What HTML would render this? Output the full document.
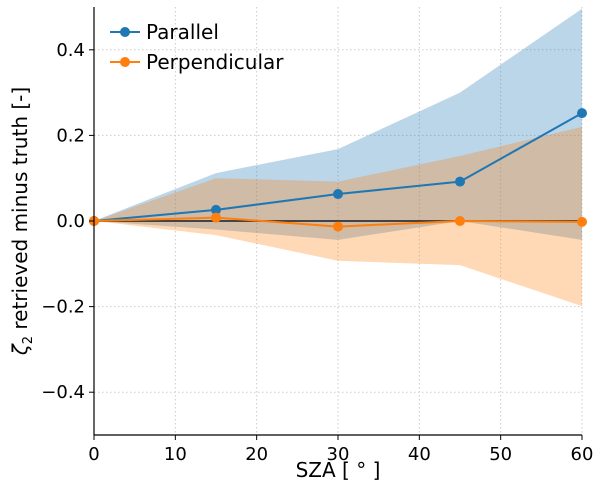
<!DOCTYPE html>
<html><head><meta charset="utf-8"><style>
body{margin:0;background:#fff}
svg{display:block;font-family:"DejaVu Sans","Liberation Sans",sans-serif}
</style></head><body>
<svg id="chart" width="600" height="495" viewBox="0 0 600 495"></svg>
<script>
const xs=[0,15,30,45,60];
const parY=[0,0.026,0.063,0.092,0.252];
const parHi=[0,0.112,0.168,0.30,0.496];
const parLo=[0,-0.02,-0.044,0,-0.044];
const perY=[0,0.008,-0.013,0,-0.002];
const perHi=[0,0.10,0.092,0.152,0.22];
const perLo=[0,-0.033,-0.093,-0.103,-0.199];
const xTicks=[0,10,20,30,40,50,60];
const yTicks=[-0.4,-0.2,0.0,0.2,0.4];
const yTickLabels=["\u22120.4","\u22120.2","0.0","0.2","0.4"];

const X0=94,X1=582,Y0=7,Y1=435;
const sx=v=>X0+(v-0)/60*(X1-X0);
const sy=v=>Y1-(v+0.5)/1.0*(Y1-Y0);
const svg=document.getElementById('chart');
const NS='http://www.w3.org/2000/svg';
function mk(t,a,p){const e=document.createElementNS(NS,t);for(const k in a)e.setAttribute(k,a[k]);(p||svg).appendChild(e);return e;}

xTicks.forEach(t=>{const l=mk('line',{x1:sx(t),x2:sx(t),y1:Y0,y2:Y1,stroke:'#ccc','stroke-dasharray':'1.5,2.5','stroke-width':1});

});
yTicks.forEach(t=>{const l=mk('line',{x1:X0,x2:X1,y1:sy(t),y2:sy(t),stroke:'#ccc','stroke-dasharray':'1.5,2.5','stroke-width':1});

});

function band(hi,lo,color,name){
  let d='M'+xs.map((x,i)=>sx(x)+','+sy(hi[i])).join('L');
  d+='L'+xs.slice().reverse().map((x,j)=>{const i=xs.length-1-j;return sx(x)+','+sy(lo[i]);}).join('L')+'Z';
  const p=mk('path',{d:d,fill:color,'fill-opacity':0.3});
  
  
}
band(parHi,parLo,'#1f77b4','parallel-band');
band(perHi,perLo,'#ff7f0e','perpendicular-band');

const z=mk('line',{x1:X0,x2:X1,y1:sy(0),y2:sy(0),stroke:'#333','stroke-width':1.8});



function series(ys,color,name){
  const g=mk('g',{});
  
  
  mk('polyline',{points:xs.map((x,i)=>sx(x)+','+sy(ys[i])).join(' '),fill:'none',stroke:color,'stroke-width':2},g);
  xs.forEach((x,i)=>{const c=mk('circle',{cx:sx(x),cy:sy(ys[i]),r:5,fill:color},g);
  
  });
}
series(parY,'#1f77b4','parallel-series');
series(perY,'#ff7f0e','perpendicular-series');

mk('line',{x1:X0,x2:X0,y1:Y0,y2:Y1,stroke:'#000','stroke-width':1.2});
mk('line',{x1:X0,x2:X1,y1:Y1,y2:Y1,stroke:'#000','stroke-width':1.2});

xTicks.forEach(t=>{mk('line',{x1:sx(t),x2:sx(t),y1:Y1,y2:Y1+5,stroke:'#000'});
const tx=mk('text',{x:sx(t),y:Y1+25,'text-anchor':'middle','font-size':18});tx.textContent=t;

});
yTicks.forEach((t,i)=>{mk('line',{x1:X0-5,x2:X0,y1:sy(t),y2:sy(t),stroke:'#000'});
const tx=mk('text',{x:X0-9,y:sy(t)+6,'text-anchor':'end','font-size':18});tx.textContent=yTickLabels[i];

});
</script>
<div style="position:absolute;left:0;top:0;width:600px;height:495px;pointer-events:none;font-family:'DejaVu Sans','Liberation Sans',sans-serif">
<div style="position:absolute;left:0;width:600px;top:458px;text-align:center;font-size:20px;padding-left:76px;box-sizing:border-box">SZA [ ° ]</div>
<div style="position:absolute;left:22px;top:221px;transform:translate(-50%,-50%) rotate(-90deg);white-space:nowrap;font-size:20px"><i>ζ</i><sub style="font-size:13px">2</sub> retrieved minus truth [-]</div>
<div style="position:absolute;left:110px;top:17px;font-size:20px;line-height:30px">
 <div style="display:flex;align-items:center"><svg width="32" height="12" style="margin-right:4px"><line x1="0" y1="6" x2="30" y2="6" stroke="#1f77b4" stroke-width="2"/><circle cx="15" cy="6" r="5" fill="#1f77b4"/></svg>Parallel</div>
 <div style="display:flex;align-items:center"><svg width="32" height="12" style="margin-right:4px"><line x1="0" y1="6" x2="30" y2="6" stroke="#ff7f0e" stroke-width="2"/><circle cx="15" cy="6" r="5" fill="#ff7f0e"/></svg>Perpendicular</div>
</div>
</div>
</body></html>
